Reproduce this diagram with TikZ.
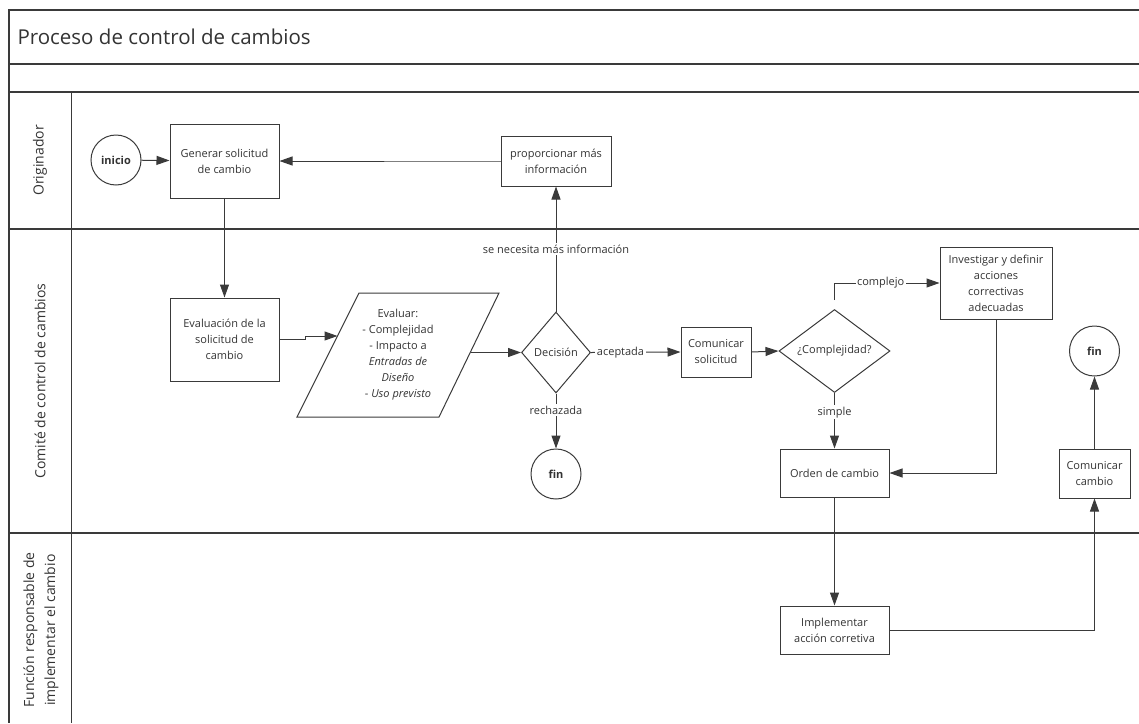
\documentclass[tikz,border=0pt]{standalone}
\usepackage{fontspec}
\setmainfont{Open Sans}
\usetikzlibrary{arrows.meta,shapes.geometric,calc}
\definecolor{lc}{HTML}{3A3A3A}
\definecolor{tc}{HTML}{333333}
\begin{document}
\begin{tikzpicture}[x=1pt,y=-1pt,
  txt/.style={text=tc, font=\fontsize{11}{16}\selectfont, align=center},
  stepbox/.style={txt, draw=lc, line width=1pt, rectangle, inner sep=0pt},
  endpoint/.style={txt, draw=lc, line width=1pt, circle, minimum size=50pt, inner sep=0pt, font=\fontsize{11}{16}\selectfont\bfseries},
  choice/.style={draw=lc, line width=1pt, diamond, inner sep=0pt},
  frame/.style={draw=lc, line width=1.3pt},
  flow/.style={draw=lc, line width=1pt, -{Triangle[length=13pt,width=9pt]}},
  plain/.style={draw=lc, line width=1pt},
  tag/.style={txt, fill=white, inner sep=1.5pt},
  lane/.style={text=tc, font=\fontsize{14}{21}\selectfont, align=center, rotate=90}
]
\useasboundingbox (0,0) rectangle (1139,723);

% pool frame, title band and lanes
\draw[frame] (1139,10) -- (9,10) -- (9,723);
\draw[frame] (9,64) -- (1139,64);
\draw[frame] (9,92) -- (1139,92);
\draw[frame] (9,229) -- (1139,229);
\draw[frame] (9,533) -- (1139,533);
\draw[frame] (71.5,92) -- (71.5,723);
\node[anchor=west, text=tc, font=\fontsize{20.5}{25}\selectfont] (title) at (14,37) {Proceso de control de cambios};
\node[lane] (l1) at (40,160.5) {Originador};
\node[lane] (l2) at (40,381) {Comité de control de cambios};
\node[lane] (l3) at (41,630) {Función responsable de\\implementar el cambio};

% steps
\node[endpoint] (inicio) at (116,160) {inicio};
\node[stepbox, minimum width=109pt, minimum height=74pt] (gen) at (224.5,161) {Generar solicitud\\de cambio};
\node[stepbox, minimum width=110pt, minimum height=50pt] (prop) at (556,161) {proporcionar más\\información};
\node[stepbox, minimum width=109pt, minimum height=83pt] (eval) at (224.5,339.5) {Evaluación de la\\solicitud de\\cambio};

% evaluation criteria (parallelogram)
\draw[plain] (297,417) -- (359,293) -- (499,293) -- (439,417) -- cycle;
\coordinate (parL) at (337.5,336);
\coordinate (parR) at (471,352.5);
\node[txt] (par) at (398,355) {Evaluar:\\- Complejidad\\- Impacto a\\\textit{Entradas de}\\\textit{Diseño}\\- \textit{Uso previsto}};

\node[choice, minimum width=69pt, minimum height=81pt, label={[txt]center:Decisión}] (dec) at (556,352.5) {};
\node[endpoint] (fin1) at (556,474) {fin};
\node[stepbox, minimum width=70pt, minimum height=50pt] (com) at (716,352) {Comunicar\\solicitud};
\node[choice, minimum width=111pt, minimum height=83pt, label={[txt]center:¿Complejidad?}] (cx) at (834.5,351) {};
\node[stepbox, minimum width=112pt, minimum height=72pt] (inv) at (996,283) {Investigar y definir\\acciones\\correctivas\\adecuadas};
\node[stepbox, minimum width=109pt, minimum height=48pt] (ord) at (834.5,473) {Orden de cambio};
\node[stepbox, minimum width=109pt, minimum height=48pt] (imp) at (834.5,630) {Implementar\\acción corretiva};
\node[stepbox, minimum width=71pt, minimum height=49pt] (comc) at (1094.5,473.5) {Comunicar\\cambio};
\node[endpoint] (fin2) at (1094.5,351) {fin};

% connectors
\draw[flow] (inicio) -- (gen);
\draw[flow] (gen) -- (eval);
\draw[flow] (prop.west) -- ++(-26,0) |- (gen.east);
\draw[flow] (eval.east) -- ++(26,0) |- (parL);
\draw[flow] (parR) -- (dec.west);
\draw[flow] (dec.north) -- node[tag, pos=0.5] {se necesita más información} (prop.south);
\draw[flow] (dec.south) -- node[tag, pos=0.3] {rechazada} (fin1.north);
\draw[flow] (dec.east) -- node[tag, pos=0.33] {aceptada} (com.west);
\draw[flow] (com.east) -- (cx.west);
\draw[flow, shorten <=9pt] (cx.north) |- node[tag, pos=0.72] {complejo} (inv.west);
\draw[flow] (inv.south) |- (ord.east);
\draw[flow] (cx.south) -- node[tag, pos=0.35] {simple} (ord.north);
\draw[flow] (ord.south) -- (imp.north);
\draw[flow] (imp.east) -| (comc.south);
\draw[flow] (comc.north) -- (fin2.south);
\end{tikzpicture}
\end{document}
